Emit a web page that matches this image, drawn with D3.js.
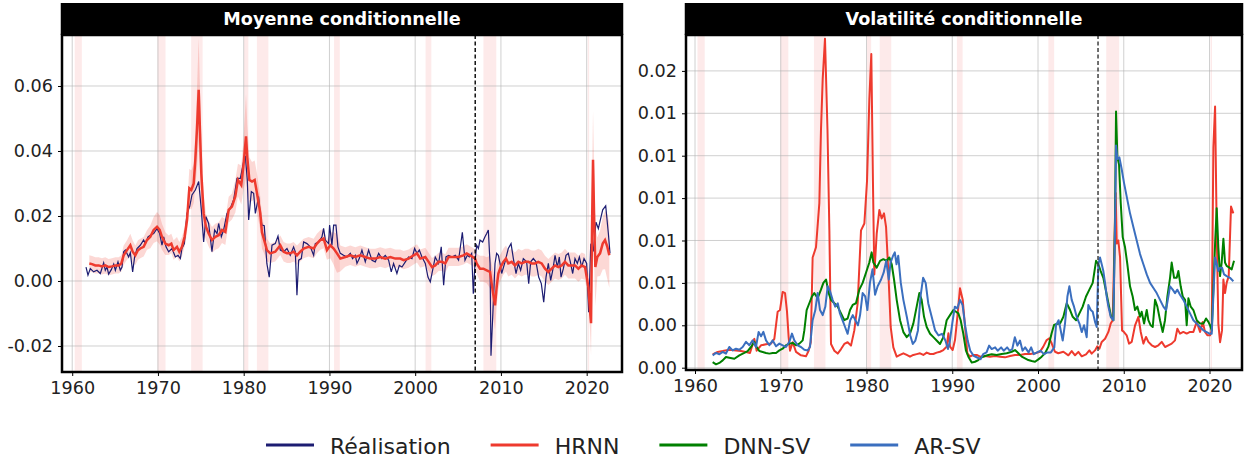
<!DOCTYPE html>
<html><head><meta charset="utf-8">
<script src="https://cdn.jsdelivr.net/npm/d3@7"></script>
<style>body{margin:0;background:#fff} text{font-family:"DejaVu Sans",sans-serif}</style>
</head><body>
<svg id="chart" width="1247" height="463"></svg>
<script>
// ---------- DATA ----------
const xTicks = [1960, 1970, 1980, 1990, 2000, 2010, 2020];
const meanYTicks = [-0.02, 0.00, 0.02, 0.04, 0.06];
const meanYTickLabels = ["-0.02", "0.00", "0.02", "0.04", "0.06"];
const volYTicks = [0, 0.0025, 0.005, 0.0075, 0.01, 0.0125, 0.015, 0.0175];
const volYTickLabels = ["0.00", "0.00", "0.01", "0.01", "0.01", "0.01", "0.01", "0.02"];
const recessionStarts = [1960.29, 1969.95, 1973.87, 1980.04, 1981.54, 1990.54, 2001.21, 2007.96, 2020.12];
const recessionEnds   = [1961.13, 1970.88, 1975.21, 1980.54, 1982.88, 1991.21, 2001.88, 2009.46, 2020.29];
const splitYear = 2007.0;
const seriesNames = ["Réalisation", "HRNN", "DNN-SV", "AR-SV"];

// Left panel: realised values
const realYears = [1961.61,1961.84,1962.11,1962.50,1962.89,1963.28,1963.67,1963.86,1964.06,1964.25,1964.56,1964.84,1965.03,1965.34,1965.61,1965.81,1966.00,1966.20,1966.58,1966.78,1967.05,1967.28,1967.56,1967.94,1968.33,1968.53,1968.84,1969.11,1969.50,1969.89,1970.20,1970.47,1970.67,1970.94,1971.25,1971.64,1972.03,1972.34,1972.61,1972.80,1973.08,1973.39,1973.70,1973.97,1974.36,1974.75,1975.06,1975.33,1975.60,1975.91,1976.30,1976.61,1976.89,1977.08,1977.39,1977.66,1978.05,1978.44,1978.83,1979.22,1979.61,1980.00,1980.19,1980.42,1980.58,1980.89,1981.16,1981.36,1981.74,1981.94,1982.13,1982.40,1982.70,1982.98,1983.30,1983.68,1984.00,1984.27,1984.66,1985.05,1985.43,1985.82,1986.02,1986.21,1986.41,1986.72,1986.99,1987.38,1987.77,1988.16,1988.35,1988.74,1989.13,1989.32,1989.52,1989.90,1990.02,1990.29,1990.49,1990.76,1990.99,1991.27,1991.65,1992.04,1992.43,1992.70,1993.01,1993.21,1993.48,1993.79,1994.18,1994.57,1994.96,1995.35,1995.74,1996.12,1996.51,1996.90,1997.21,1997.48,1997.87,1998.15,1998.46,1998.85,1999.23,1999.62,1999.93,2000.21,2000.48,2000.79,2001.18,2001.49,2001.76,2002.03,2002.34,2002.73,2003.04,2003.32,2003.59,2003.90,2004.29,2004.68,2005.06,2005.50,2005.81,2006.08,2006.32,2006.59,2006.78,2006.98,2007.17,2007.37,2007.56,2007.87,2008.14,2008.34,2008.53,2008.73,2008.84,2009.04,2009.31,2009.50,2009.70,2009.89,2010.09,2010.48,2010.86,2011.18,2011.45,2011.76,2012.03,2012.30,2012.61,2013.00,2013.24,2013.47,2013.78,2014.09,2014.40,2014.71,2014.99,2015.26,2015.53,2015.80,2016.04,2016.31,2016.58,2016.81,2017.01,2017.28,2017.59,2017.86,2018.13,2018.37,2018.64,2018.91,2019.15,2019.42,2019.69,2020.00,2020.23,2020.47,2020.78,2021.09,2021.36,2021.63,2021.87,2022.22,2022.53,2022.72];
const realValues = [0.0043,0.0018,0.0038,0.0028,0.0033,0.0023,0.0056,0.0033,0.0043,0.0021,0.0035,0.0052,0.0033,0.0059,0.0033,0.0043,0.0090,0.0095,0.0074,0.0087,0.0028,0.0074,0.0100,0.0110,0.0126,0.0115,0.0136,0.0141,0.0146,0.0161,0.0146,0.0110,0.0136,0.0105,0.0090,0.0100,0.0074,0.0079,0.0069,0.0100,0.0115,0.0208,0.0229,0.0265,0.0280,0.0306,0.0219,0.0120,0.0198,0.0177,0.0090,0.0157,0.0146,0.0177,0.0136,0.0157,0.0208,0.0224,0.0250,0.0316,0.0316,0.0368,0.0385,0.0311,0.0188,0.0275,0.0270,0.0208,0.0260,0.0200,0.0172,0.0170,0.0054,0.0012,0.0110,0.0115,0.0138,0.0095,0.0090,0.0100,0.0079,0.0105,0.0090,-0.0044,0.0064,0.0069,0.0120,0.0115,0.0105,0.0079,0.0115,0.0120,0.0136,0.0162,0.0126,0.0115,0.0172,0.0110,0.0172,0.0172,0.0105,0.0085,0.0079,0.0074,0.0085,0.0069,0.0079,0.0054,0.0069,0.0095,0.0059,0.0095,0.0064,0.0059,0.0085,0.0069,0.0079,0.0064,0.0028,0.0054,0.0023,0.0048,0.0043,0.0059,0.0074,0.0069,0.0100,0.0085,0.0095,0.0074,0.0054,0.0012,-0.0003,0.0033,0.0074,0.0054,0.0105,-0.0013,0.0074,0.0079,0.0074,0.0079,0.0064,0.0150,0.0064,0.0079,0.0074,0.0085,-0.0039,0.0059,0.0110,0.0100,0.0126,0.0120,0.0136,0.0146,0.0157,0.0054,-0.0230,-0.0111,0.0054,0.0085,0.0079,0.0054,0.0023,0.0059,0.0100,0.0115,0.0069,0.0023,0.0054,0.0033,0.0069,0.0059,-0.0008,0.0059,0.0069,0.0059,0.0012,-0.0008,-0.0065,0.0012,0.0054,0.0002,0.0033,0.0079,0.0043,0.0074,0.0012,0.0038,0.0079,0.0085,0.0054,0.0023,0.0069,0.0054,0.0074,0.0043,0.0069,0.0054,-0.0096,0.0110,0.0095,0.0181,0.0161,0.0192,0.0219,0.0231,0.0146,0.0085];

// Left panel: HRNN conditional mean and half-width of its band
const hrnnMeanYears = [1962.00,1962.31,1962.70,1963.09,1963.47,1963.86,1964.25,1964.64,1965.03,1965.42,1965.73,1966.00,1966.39,1966.78,1967.05,1967.36,1967.67,1967.94,1968.33,1968.72,1969.11,1969.50,1969.89,1970.20,1970.47,1970.86,1971.25,1971.56,1971.83,1972.22,1972.49,1972.80,1973.11,1973.39,1973.66,1973.89,1974.17,1974.36,1974.55,1974.75,1975.06,1975.33,1975.60,1975.91,1976.30,1976.69,1977.08,1977.47,1977.86,1978.25,1978.63,1979.02,1979.33,1979.72,1980.00,1980.27,1980.42,1980.66,1980.97,1981.28,1981.55,1981.94,1982.13,1982.44,1982.71,1983.10,1983.68,1984.27,1984.66,1985.05,1985.43,1985.82,1986.21,1986.60,1986.99,1987.57,1988.16,1988.54,1988.93,1989.32,1989.71,1990.10,1990.49,1990.88,1991.27,1991.85,1992.43,1993.01,1993.60,1994.18,1994.76,1995.35,1995.93,1996.51,1997.10,1997.68,1998.26,1998.65,1999.23,1999.82,2000.21,2000.59,2001.18,2001.57,2001.96,2002.34,2002.73,2003.12,2003.51,2003.90,2004.48,2005.06,2005.62,2006.01,2006.40,2006.71,2006.98,2007.17,2007.56,2007.95,2008.34,2008.73,2008.92,2009.12,2009.31,2009.50,2009.70,2009.97,2010.28,2010.59,2010.86,2011.25,2011.64,2012.03,2012.42,2012.81,2013.20,2013.59,2013.97,2014.36,2014.75,2015.14,2015.53,2015.92,2016.31,2016.70,2017.09,2017.47,2017.86,2018.25,2018.64,2019.03,2019.42,2019.81,2020.20,2020.39,2020.51,2020.62,2020.74,2020.86,2021.01,2021.24,2021.56,2021.87,2022.14,2022.41,2022.64];
const hrnnMeanValues = [0.0054,0.0052,0.0048,0.0048,0.0045,0.0048,0.0043,0.0045,0.0048,0.0048,0.0054,0.0079,0.0095,0.0110,0.0090,0.0079,0.0095,0.0100,0.0105,0.0126,0.0136,0.0157,0.0167,0.0157,0.0136,0.0115,0.0110,0.0115,0.0095,0.0105,0.0090,0.0105,0.0136,0.0187,0.0285,0.0280,0.0300,0.0373,0.0466,0.0588,0.0330,0.0208,0.0167,0.0146,0.0126,0.0136,0.0141,0.0157,0.0151,0.0219,0.0229,0.0260,0.0311,0.0295,0.0363,0.0445,0.0380,0.0311,0.0306,0.0311,0.0270,0.0208,0.0150,0.0121,0.0095,0.0085,0.0090,0.0110,0.0090,0.0085,0.0085,0.0090,0.0079,0.0090,0.0100,0.0105,0.0100,0.0115,0.0126,0.0131,0.0095,0.0110,0.0100,0.0085,0.0069,0.0074,0.0079,0.0074,0.0079,0.0074,0.0069,0.0069,0.0074,0.0069,0.0074,0.0069,0.0069,0.0064,0.0069,0.0079,0.0085,0.0069,0.0074,0.0059,0.0043,0.0048,0.0059,0.0059,0.0054,0.0074,0.0074,0.0074,0.0079,0.0085,0.0079,0.0074,0.0069,0.0054,0.0038,0.0038,0.0033,0.0028,-0.0008,-0.0044,-0.0075,-0.0019,0.0023,0.0043,0.0059,0.0069,0.0054,0.0059,0.0048,0.0059,0.0054,0.0059,0.0059,0.0054,0.0054,0.0059,0.0054,0.0038,0.0028,0.0038,0.0048,0.0043,0.0048,0.0059,0.0048,0.0048,0.0048,0.0038,0.0048,0.0043,-0.0019,-0.0091,-0.0130,0.0157,0.0373,0.0208,0.0043,0.0074,0.0085,0.0115,0.0126,0.0105,0.0079];
const hrnnBandHalf = [0.0025,0.0025,0.0025,0.0025,0.0025,0.0025,0.0025,0.0025,0.0025,0.0025,0.0025,0.003,0.003,0.0035,0.0035,0.003,0.003,0.003,0.003,0.003,0.0035,0.004,0.0045,0.0045,0.004,0.0035,0.003,0.003,0.003,0.003,0.003,0.003,0.003,0.004,0.006,0.006,0.006,0.008,0.012,0.016,0.010,0.006,0.004,0.004,0.004,0.004,0.004,0.004,0.004,0.004,0.004,0.005,0.005,0.006,0.008,0.013,0.010,0.007,0.006,0.006,0.006,0.005,0.005,0.004,0.0035,0.003,0.003,0.003,0.003,0.003,0.003,0.003,0.003,0.003,0.003,0.003,0.003,0.003,0.003,0.003,0.003,0.004,0.005,0.006,0.004,0.003,0.003,0.003,0.003,0.003,0.003,0.003,0.003,0.003,0.0028,0.0028,0.0028,0.0028,0.0028,0.0028,0.0028,0.0028,0.0028,0.0028,0.0028,0.0028,0.0028,0.0028,0.0028,0.0028,0.0028,0.0028,0.0028,0.0028,0.0028,0.0028,0.0028,0.003,0.004,0.004,0.004,0.005,0.006,0.007,0.0075,0.006,0.005,0.004,0.004,0.004,0.004,0.004,0.004,0.004,0.004,0.004,0.004,0.004,0.004,0.004,0.004,0.004,0.004,0.004,0.004,0.004,0.004,0.004,0.004,0.004,0.004,0.004,0.004,0.004,0.004,0.006,0.010,0.014,0.015,0.015,0.012,0.006,0.007,0.008,0.009,0.010,0.010,0.009];

// Right panel: conditional volatility
const volHrnnYears = [1962.06,1962.64,1963.23,1964.00,1964.78,1965.36,1965.95,1966.41,1966.92,1967.19,1967.70,1968.28,1968.86,1969.25,1969.64,1969.91,1970.22,1970.50,1970.73,1970.92,1971.08,1971.39,1971.78,1972.36,1972.94,1973.25,1973.50,1973.72,1974.11,1974.50,1974.69,1974.89,1975.16,1975.45,1975.67,1975.86,1976.25,1976.64,1977.03,1977.41,1977.80,1978.19,1978.58,1978.97,1979.36,1979.75,1980.06,1980.33,1980.56,1980.75,1980.91,1981.19,1981.50,1981.77,1982.04,1982.28,1982.55,1982.82,1983.13,1983.52,1983.91,1984.30,1984.69,1985.07,1985.46,1985.85,1986.24,1986.63,1987.02,1987.41,1987.80,1988.18,1988.57,1988.96,1989.35,1989.55,1989.74,1990.05,1990.32,1990.60,1990.90,1991.22,1991.49,1991.76,1992.07,1992.46,1992.85,1993.24,1993.82,1994.40,1994.99,1995.57,1996.15,1996.74,1997.32,1997.90,1998.49,1999.07,1999.65,2000.23,2000.62,2001.01,2001.32,2001.59,2001.98,2002.37,2002.96,2003.54,2003.93,2004.32,2004.71,2005.10,2005.60,2005.99,2006.26,2006.65,2006.92,2007.16,2007.43,2007.82,2008.21,2008.48,2008.71,2008.91,2009.06,2009.18,2009.37,2009.57,2009.80,2010.03,2010.34,2010.62,2010.93,2011.32,2011.71,2011.98,2012.29,2012.60,2012.87,2013.26,2013.65,2014.04,2014.43,2014.82,2015.20,2015.59,2015.98,2016.25,2016.56,2016.95,2017.34,2017.73,2018.12,2018.51,2018.90,2019.21,2019.48,2019.75,2020.06,2020.26,2020.45,2020.65,2020.84,2021.03,2021.23,2021.46,2021.62,2021.81,2022.00,2022.24,2022.51,2022.78];
const volHrnnValues = [0.00079,0.00093,0.00098,0.00106,0.00102,0.00098,0.00093,0.00087,0.00170,0.00100,0.00132,0.00138,0.00142,0.00170,0.00330,0.00340,0.00447,0.00440,0.00330,0.00180,0.00100,0.00150,0.00093,0.00073,0.00067,0.00100,0.00150,0.00650,0.00710,0.00970,0.01400,0.01700,0.01940,0.01400,0.00810,0.00140,0.00100,0.00083,0.00110,0.00140,0.00150,0.00130,0.00220,0.00380,0.00810,0.00850,0.01100,0.01580,0.01850,0.01100,0.00550,0.00790,0.00930,0.00880,0.00910,0.00830,0.00560,0.00240,0.00120,0.00065,0.00075,0.00085,0.00075,0.00065,0.00075,0.00080,0.00085,0.00075,0.00089,0.00081,0.00081,0.00089,0.00094,0.00104,0.00124,0.00203,0.00124,0.00104,0.00163,0.00301,0.00468,0.00400,0.00242,0.00085,0.00065,0.00075,0.00075,0.00065,0.00069,0.00065,0.00069,0.00065,0.00061,0.00069,0.00075,0.00075,0.00081,0.00081,0.00085,0.00094,0.00124,0.00163,0.00173,0.00144,0.00094,0.00085,0.00094,0.00073,0.00098,0.00073,0.00093,0.00067,0.00079,0.00102,0.00083,0.00102,0.00126,0.00112,0.00152,0.00171,0.00211,0.00260,0.00280,0.00710,0.01030,0.00732,0.00750,0.00650,0.00220,0.00210,0.00191,0.00142,0.00152,0.00250,0.00300,0.00211,0.00142,0.00181,0.00152,0.00132,0.00122,0.00132,0.00152,0.00122,0.00132,0.00142,0.00161,0.00230,0.00201,0.00211,0.00201,0.00211,0.00211,0.00270,0.00211,0.00270,0.00211,0.00191,0.00191,0.00220,0.01300,0.01540,0.00810,0.00260,0.00150,0.00220,0.00520,0.00440,0.00500,0.00540,0.00950,0.00910];

const dnnYears = [1962.06,1962.45,1962.84,1963.23,1963.61,1964.00,1964.59,1965.17,1965.75,1966.14,1966.53,1966.92,1967.19,1967.50,1967.89,1968.28,1968.67,1969.06,1969.45,1969.84,1970.22,1970.61,1971.00,1971.39,1971.78,1972.17,1972.56,1972.75,1973.02,1973.33,1973.64,1973.91,1974.30,1974.69,1974.97,1975.28,1975.59,1975.86,1976.25,1976.64,1977.03,1977.41,1977.80,1978.08,1978.39,1978.77,1979.16,1979.55,1979.94,1980.33,1980.60,1980.80,1981.19,1981.58,1981.96,1982.35,1982.66,1982.94,1983.21,1983.52,1983.91,1984.30,1984.69,1985.07,1985.46,1985.85,1986.16,1986.43,1986.71,1987.02,1987.41,1987.80,1988.18,1988.57,1988.96,1989.35,1989.74,1990.13,1990.44,1990.71,1990.98,1991.29,1991.60,1991.88,1992.27,1992.65,1993.04,1993.43,1993.82,1994.21,1994.60,1995.18,1995.76,1996.35,1996.93,1997.32,1997.71,1998.10,1998.49,1998.87,1999.26,1999.65,2000.04,2000.43,2000.82,2001.21,2001.59,2001.87,2002.18,2002.57,2002.96,2003.35,2003.74,2004.05,2004.44,2004.83,2005.21,2005.60,2005.99,2006.38,2006.77,2007.04,2007.31,2007.62,2007.90,2008.21,2008.52,2008.79,2008.98,2009.10,2009.26,2009.45,2009.65,2009.88,2010.15,2010.42,2010.73,2011.04,2011.32,2011.59,2011.90,2012.09,2012.37,2012.68,2012.87,2013.14,2013.38,2013.65,2013.92,2014.23,2014.54,2014.81,2015.09,2015.40,2015.59,2015.87,2016.18,2016.37,2016.64,2016.88,2017.15,2017.34,2017.54,2017.81,2018.12,2018.51,2018.90,2019.29,2019.60,2019.87,2020.06,2020.26,2020.45,2020.65,2020.84,2021.03,2021.23,2021.42,2021.62,2021.81,2022.00,2022.32,2022.59,2022.86];
const dnnValues = [0.00033,0.00020,0.00028,0.00043,0.00063,0.00059,0.00053,0.00073,0.00087,0.00098,0.00122,0.00152,0.00122,0.00098,0.00093,0.00087,0.00083,0.00087,0.00087,0.00102,0.00112,0.00132,0.00142,0.00146,0.00132,0.00142,0.00161,0.00220,0.00340,0.00380,0.00420,0.00440,0.00410,0.00460,0.00500,0.00520,0.00440,0.00400,0.00380,0.00360,0.00320,0.00280,0.00290,0.00340,0.00370,0.00380,0.00460,0.00500,0.00560,0.00620,0.00680,0.00620,0.00590,0.00630,0.00640,0.00630,0.00650,0.00610,0.00520,0.00400,0.00280,0.00210,0.00180,0.00200,0.00260,0.00360,0.00440,0.00400,0.00300,0.00240,0.00200,0.00180,0.00160,0.00140,0.00180,0.00280,0.00310,0.00340,0.00330,0.00320,0.00280,0.00200,0.00100,0.00065,0.00030,0.00035,0.00045,0.00061,0.00069,0.00075,0.00079,0.00075,0.00081,0.00085,0.00094,0.00104,0.00085,0.00065,0.00055,0.00045,0.00039,0.00035,0.00049,0.00065,0.00085,0.00124,0.00203,0.00252,0.00258,0.00260,0.00300,0.00380,0.00340,0.00300,0.00280,0.00320,0.00360,0.00420,0.00460,0.00500,0.00630,0.00610,0.00570,0.00530,0.00460,0.00380,0.00300,0.00280,0.00890,0.01510,0.01240,0.01200,0.00970,0.00770,0.00710,0.00610,0.00480,0.00420,0.00340,0.00360,0.00300,0.00330,0.00260,0.00340,0.00280,0.00250,0.00240,0.00400,0.00360,0.00280,0.00210,0.00280,0.00420,0.00530,0.00620,0.00530,0.00530,0.00570,0.00480,0.00420,0.00400,0.00250,0.00410,0.00360,0.00340,0.00280,0.00260,0.00260,0.00290,0.00270,0.00250,0.00220,0.00460,0.00730,0.00940,0.00710,0.00540,0.00620,0.00760,0.00620,0.00600,0.00590,0.00580,0.00630];

const arYears = [1962.06,1962.45,1962.84,1963.23,1963.61,1964.00,1964.39,1964.78,1965.17,1965.56,1965.95,1966.34,1966.72,1967.11,1967.42,1967.70,1967.97,1968.28,1968.67,1969.06,1969.45,1969.84,1970.22,1970.61,1971.00,1971.31,1971.58,1971.97,1972.36,1972.75,1973.14,1973.41,1973.72,1974.03,1974.30,1974.58,1974.89,1975.20,1975.47,1975.75,1976.05,1976.35,1976.65,1976.90,1977.20,1977.50,1977.80,1978.10,1978.40,1978.70,1979.00,1979.25,1979.55,1979.85,1980.10,1980.40,1980.70,1981.00,1981.30,1981.70,1982.00,1982.30,1982.60,1982.80,1983.10,1983.30,1983.50,1983.70,1984.00,1984.30,1984.70,1985.10,1985.40,1985.70,1986.00,1986.30,1986.60,1986.90,1987.20,1987.60,1988.00,1988.40,1988.80,1989.20,1989.50,1989.70,1990.00,1990.30,1990.60,1990.90,1991.20,1991.50,1991.80,1992.10,1992.50,1992.90,1993.30,1993.60,1994.00,1994.30,1994.60,1995.00,1995.30,1995.70,1996.00,1996.40,1996.70,1997.00,1997.30,1997.60,1997.90,1998.20,1998.50,1998.90,1999.20,1999.50,1999.90,2000.30,2000.70,2001.10,2001.50,2001.90,2002.10,2002.40,2002.57,2002.88,2003.15,2003.43,2003.66,2003.93,2004.20,2004.51,2004.83,2005.10,2005.37,2005.68,2005.87,2006.15,2006.38,2006.65,2006.85,2007.04,2007.23,2007.43,2007.62,2007.82,2008.01,2008.21,2008.48,2008.79,2008.98,2009.10,2009.26,2009.49,2009.76,2010.03,2010.34,2010.73,2011.12,2011.51,2011.90,2012.29,2012.68,2013.07,2013.46,2013.84,2014.23,2014.62,2014.93,2015.20,2015.40,2015.71,2015.98,2016.25,2016.56,2016.95,2017.34,2017.73,2018.12,2018.51,2018.90,2019.29,2019.67,2020.06,2020.26,2020.45,2020.65,2020.84,2021.03,2021.23,2021.46,2021.70,2022.00,2022.39,2022.78];
const arValues = [0.00073,0.00087,0.00079,0.00093,0.00083,0.00122,0.00102,0.00112,0.00106,0.00122,0.00152,0.00132,0.00161,0.00122,0.00211,0.00185,0.00211,0.00161,0.00132,0.00161,0.00126,0.00142,0.00132,0.00122,0.00152,0.00201,0.00161,0.00132,0.00122,0.00106,0.00102,0.00122,0.00280,0.00340,0.00440,0.00340,0.00310,0.00360,0.00480,0.00450,0.00400,0.00360,0.00380,0.00320,0.00280,0.00240,0.00200,0.00280,0.00310,0.00280,0.00250,0.00310,0.00440,0.00420,0.00340,0.00500,0.00580,0.00430,0.00480,0.00520,0.00560,0.00630,0.00520,0.00620,0.00660,0.00680,0.00610,0.00660,0.00500,0.00400,0.00300,0.00190,0.00140,0.00160,0.00220,0.00420,0.00530,0.00500,0.00380,0.00300,0.00220,0.00190,0.00200,0.00160,0.00110,0.00150,0.00260,0.00360,0.00350,0.00400,0.00370,0.00250,0.00160,0.00100,0.00070,0.00060,0.00050,0.00080,0.00090,0.00130,0.00110,0.00120,0.00100,0.00120,0.00100,0.00120,0.00100,0.00110,0.00180,0.00130,0.00160,0.00100,0.00120,0.00090,0.00120,0.00080,0.00090,0.00100,0.00080,0.00090,0.00090,0.00120,0.00250,0.00280,0.00240,0.00160,0.00260,0.00420,0.00480,0.00400,0.00360,0.00300,0.00260,0.00210,0.00250,0.00180,0.00370,0.00340,0.00330,0.00270,0.00240,0.00610,0.00650,0.00610,0.00570,0.00500,0.00420,0.00360,0.00300,0.00280,0.00810,0.01310,0.01230,0.01240,0.01170,0.01090,0.01010,0.00910,0.00830,0.00750,0.00670,0.00610,0.00550,0.00500,0.00470,0.00440,0.00400,0.00360,0.00340,0.00420,0.00480,0.00460,0.00440,0.00460,0.00430,0.00400,0.00360,0.00320,0.00280,0.00260,0.00240,0.00220,0.00210,0.00200,0.00200,0.00420,0.00650,0.00610,0.00570,0.00590,0.00590,0.00550,0.00540,0.00530,0.00510];

// ---------- STYLE ----------
const colors = {real: "#1c1c72", hrnn: "#ee3a2e", dnn: "#008000", ar: "#3b6fbf"};
const FONT = "'DejaVu Sans', sans-serif";

const svg = d3.select("#chart");
const zip = (xs, ys) => xs.map((x, i) => [x, ys[i]]);

const panels = [
  {title: "Moyenne conditionnelle", x0: 62, x1: 622, yTop: 35, yBot: 372,
   xDom: [1958.81, 2024.12], yDom: [-0.028, 0.07569], yTicks: meanYTicks, yLabels: meanYTickLabels},
  {title: "Volatilité conditionnelle", x0: 686, x1: 1242, yTop: 35, yBot: 370,
   xDom: [1958.95, 2023.79], yDom: [-0.000136, 0.019617], yTicks: volYTicks, yLabels: volYTickLabels}
];

panels.forEach((p, pi) => {
  const x = d3.scaleLinear().domain(p.xDom).range([p.x0, p.x1]);
  const y = d3.scaleLinear().domain(p.yDom).range([p.yBot, p.yTop]);
  p.x = x; p.y = y;
  const g = svg.append("g");
  const clipId = "clip" + pi;
  svg.append("clipPath").attr("id", clipId).append("rect")
    .attr("x", p.x0).attr("y", p.yTop).attr("width", p.x1 - p.x0).attr("height", p.yBot - p.yTop);
  const inner = g.append("g").attr("clip-path", `url(#${clipId})`);

  // recession shading
  inner.selectAll("rect.rec").data(recessionStarts.map((s, i) => [s, recessionEnds[i]])).enter()
    .append("rect").attr("x", d => x(d[0])).attr("width", d => x(d[1]) - x(d[0]))
    .attr("y", p.yTop).attr("height", p.yBot - p.yTop)
    .attr("fill", "#f9c4c4").attr("fill-opacity", 0.35);

  // grid
  inner.selectAll("line.gx").data(xTicks).enter().append("line")
    .attr("x1", d => x(d)).attr("x2", d => x(d)).attr("y1", p.yTop).attr("y2", p.yBot)
    .attr("stroke", "#b0b0b0").attr("stroke-opacity", 0.6).attr("stroke-width", 1);
  inner.selectAll("line.gy").data(p.yTicks).enter().append("line")
    .attr("y1", d => y(d)).attr("y2", d => y(d)).attr("x1", p.x0).attr("x2", p.x1)
    .attr("stroke", "#b0b0b0").attr("stroke-opacity", 0.6).attr("stroke-width", 1);

  const line = d3.line().x(d => x(d[0])).y(d => y(d[1]));
  if (pi === 0) {
    const band = hrnnMeanYears.map((t, i) => [t, hrnnMeanValues[i] - hrnnBandHalf[i], hrnnMeanValues[i] + hrnnBandHalf[i]]);
    inner.append("path").datum(band)
      .attr("d", d3.area().x(d => x(d[0])).y0(d => y(d[1])).y1(d => y(d[2])))
      .attr("fill", colors.hrnn).attr("fill-opacity", 0.2);
    inner.append("path").datum(zip(realYears, realValues)).attr("d", line)
      .attr("fill", "none").attr("stroke", colors.real).attr("stroke-width", 1.2);
    inner.append("path").datum(zip(hrnnMeanYears, hrnnMeanValues)).attr("d", line)
      .attr("fill", "none").attr("stroke", colors.hrnn).attr("stroke-width", 2.5);
  } else {
    [[volHrnnYears, volHrnnValues, colors.hrnn], [dnnYears, dnnValues, colors.dnn], [arYears, arValues, colors.ar]]
      .forEach(([ys, vs, c]) => {
        inner.append("path").datum(zip(ys, vs)).attr("d", line)
          .attr("fill", "none").attr("stroke", c).attr("stroke-width", 2).attr("stroke-linejoin", "round");
      });
  }

  // split line
  inner.append("line").attr("x1", x(splitYear)).attr("x2", x(splitYear))
    .attr("y1", p.yTop).attr("y2", p.yBot)
    .attr("stroke", pi === 0 ? "#000" : "#333").attr("stroke-width", 1.4).attr("stroke-dasharray", "4,2.5");

  // frame
  g.append("rect").attr("x", p.x0).attr("y", p.yTop).attr("width", p.x1 - p.x0).attr("height", p.yBot - p.yTop)
    .attr("fill", "none").attr("stroke", "#000").attr("stroke-width", 2.5);

  // axes ticks & labels
  const xa = g.append("g").attr("transform", `translate(0,${p.yBot})`)
    .call(d3.axisBottom(x).tickValues(xTicks).tickFormat(d3.format("d")).tickSize(4).tickPadding(6));
  xa.select(".domain").remove();
  xa.selectAll("text").attr("font-size", "17.6px").attr("font-family", FONT).attr("fill", "#222");
  xa.selectAll("line").attr("stroke", "#000");

  const ya = g.append("g").attr("transform", `translate(${p.x0},0)`)
    .call(d3.axisLeft(y).tickValues(p.yTicks).tickFormat((d, i) => p.yLabels[i]).tickSize(4).tickPadding(5));
  ya.select(".domain").remove();
  ya.selectAll("text").attr("font-size", "17.6px").attr("font-family", FONT).attr("fill", "#222");
  ya.selectAll("line").attr("stroke", "#000");

  // title bar
  g.append("rect").attr("x", p.x0 - 1.25).attr("y", 3).attr("width", p.x1 - p.x0 + 2.5).attr("height", p.yTop - 3)
    .attr("fill", "#000");
  g.append("text").attr("x", (p.x0 + p.x1) / 2).attr("y", 25).attr("text-anchor", "middle")
    .attr("font-family", FONT).attr("font-weight", "bold").attr("font-size", "17.6px").attr("fill", "#fff")
    .text(p.title);
});

// legend
const legColors = [colors.real, colors.hrnn, colors.dnn, colors.ar];
const leg = svg.append("g");
let lx = 266;
seriesNames.forEach((name, i) => {
  leg.append("line").attr("x1", lx).attr("x2", lx + 48).attr("y1", 445).attr("y2", 445)
    .attr("stroke", legColors[i]).attr("stroke-width", 3);
  const t = leg.append("text").attr("x", lx + 64).attr("y", 454).attr("font-family", FONT)
    .attr("font-size", "22px").attr("fill", "#222").text(name);
  lx += 64 + t.node().getComputedTextLength() + 40;
});
</script>
</body></html>
